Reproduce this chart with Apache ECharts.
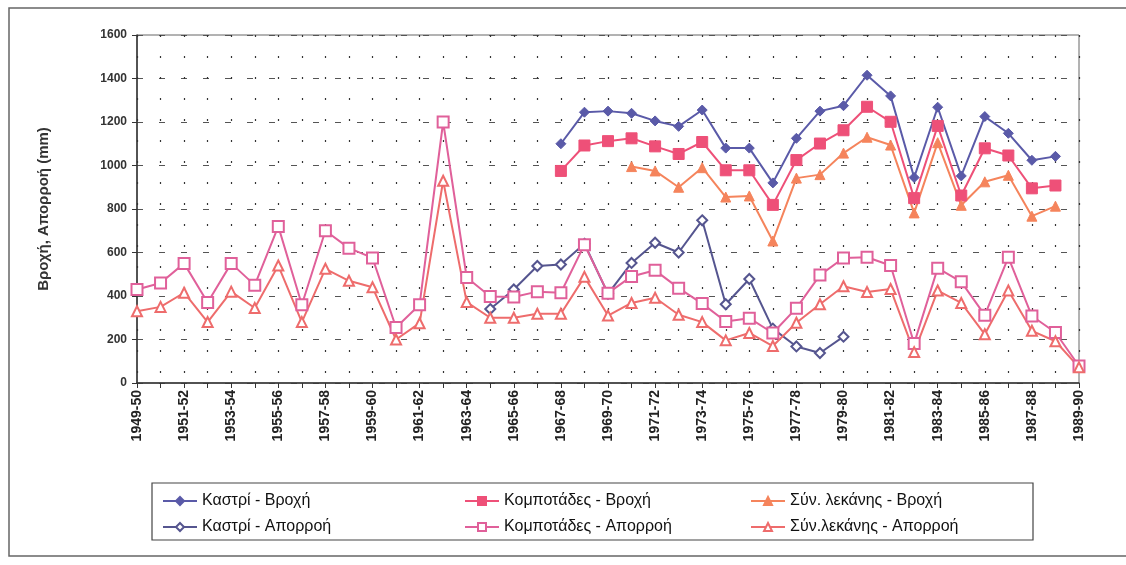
<!DOCTYPE html>
<html>
<head>
<meta charset="utf-8">
<script src="https://cdn.jsdelivr.net/npm/echarts@6/dist/echarts.min.js"></script>
<style>
html,body{margin:0;padding:0;background:#fff;}
#chart{width:1126px;height:565px;}
</style>
</head>
<body>
<div id="chart"></div>
<script>
const categories = ["1949-50","1950-51","1951-52","1952-53","1953-54","1954-55","1955-56","1956-57","1957-58","1958-59","1959-60","1960-61","1961-62","1962-63","1963-64","1964-65","1965-66","1966-67","1967-68","1968-69","1969-70","1970-71","1971-72","1972-73","1973-74","1974-75","1975-76","1976-77","1977-78","1978-79","1979-80","1980-81","1981-82","1982-83","1983-84","1984-85","1985-86","1986-87","1987-88","1988-89","1989-90"];

const seriesNames = ["Καστρί - Βροχή","Κομποτάδες - Βροχή","Σύν. λεκάνης - Βροχή","Καστρί - Απορροή","Κομποτάδες - Απορροή","Σύν.λεκάνης - Απορροή"];

const kastriRain = [null,null,null,null,null,null,null,null,null,null,null,null,null,null,null,null,null,null,1100,1245,1250,1240,1205,1180,1255,1080,1080,920,1125,1250,1275,1415,1320,945,1268,952,1225,1148,1024,1042,null];
const kompRain = [null,null,null,null,null,null,null,null,null,null,null,null,null,null,null,null,null,null,975,1092,1112,1125,1088,1053,1108,978,978,819,1025,1101,1162,1270,1201,850,1182,862,1079,1046,895,908,null];
const synRain = [null,null,null,null,null,null,null,null,null,null,null,null,null,null,null,null,null,null,null,null,null,995,975,900,990,855,860,653,942,958,1057,1130,1094,782,1105,817,925,955,767,813,null];
const kastriRunoff = [null,null,null,null,null,null,null,null,null,null,null,null,null,null,null,340,430,538,545,640,410,552,645,600,748,362,478,250,168,138,213,null,null,null,null,null,null,null,null,null,null];
const kompRunoff = [430,460,550,370,550,450,720,360,700,620,575,255,360,1200,485,398,395,420,415,636,413,490,518,436,365,283,298,230,344,496,575,578,540,182,528,465,312,578,308,232,78];
const synRunoff = [330,350,415,280,420,345,540,280,525,470,440,200,275,930,372,300,300,318,318,488,310,368,392,314,280,196,230,170,277,362,445,418,432,142,425,368,224,425,240,192,72];

const yTicks = {min:0, max:1600, step:200};

const chart = echarts.init(document.getElementById('chart'), null, {renderer:'canvas'});

const C = {
  kastriV:'#5a5aa8', kompV:'#ee5078', synV:'#f5845c',
  kastriA:'#55558f', kompA:'#e0609a', synA:'#ee6c6c'
};

function mk(name, data, color, symbol, size, lineColor){
  return {
    name: name, type:'line', data: data, symbol: symbol, symbolSize: size,
    showAllSymbol:true, connectNulls:false,
    lineStyle:{color: lineColor||color, width:2},
    itemStyle:{color: color, borderColor: color, borderWidth: symbol.startsWith('empty')?1.8:1},
    emphasis:{disabled:true}, z: 3
  };
}

const legendText = {fontFamily:'Liberation Sans, Arial, sans-serif', fontSize:16, color:'#111'};

const option = {
  animation:false,
  backgroundColor:'#fff',
  textStyle:{fontFamily:'Liberation Sans, Arial, sans-serif'},
  grid:{left:137, right:47, top:35, bottom:182, show:true, borderColor:'#666', borderWidth:1, backgroundColor:'#fff'},
  xAxis:{
    type:'category', data:categories, boundaryGap:false,
    axisLine:{lineStyle:{color:'#333', width:1.5}},
    axisTick:{show:true, interval:0, length:5, lineStyle:{color:'#333'}},
    axisLabel:{interval:1, rotate:90, fontSize:14, fontWeight:'bold', color:'#222', margin:7},
    splitLine:{show:true, interval:0, lineStyle:{color:'#333', type:[2,19], width:1.2}}
  },
  yAxis:{
    type:'value', min:yTicks.min, max:yTicks.max, interval:yTicks.step,
    name:'Βροχή, Απορροή (mm)', nameLocation:'middle', nameGap:86,
    nameTextStyle:{fontSize:15, fontWeight:'bold', color:'#333'},
    axisLine:{show:true, lineStyle:{color:'#333', width:1.5}},
    axisTick:{show:true, length:5, lineStyle:{color:'#333'}},
    axisLabel:{fontSize:12, fontWeight:'bold', color:'#333', margin:10, formatter:function(v){return String(v);}},
    splitLine:{show:true, lineStyle:{color:'#555', type:[6,16], width:1}}
  },
  legend:[
    {data:[seriesNames[0], seriesNames[3]], orient:'vertical', left:157, top:488, itemGap:10, itemWidth:34, itemHeight:10, textStyle:legendText},
    {data:[seriesNames[1], seriesNames[4]], orient:'vertical', left:459, top:488, itemGap:10, itemWidth:34, itemHeight:10, textStyle:legendText},
    {data:[seriesNames[2], seriesNames[5]], orient:'vertical', left:745, top:488, itemGap:10, itemWidth:34, itemHeight:10, textStyle:legendText}
  ],
  graphic:[
    {type:'rect', shape:{x:9, y:8, width:1130, height:548}, style:{fill:'none', stroke:'#666', lineWidth:1.5}, silent:true},
    {type:'rect', shape:{x:152, y:483, width:881, height:57}, style:{fill:'none', stroke:'#444', lineWidth:1.2}, silent:true}
  ],
  series:[
    mk(seriesNames[0], kastriRain, C.kastriV, 'diamond', 10),
    mk(seriesNames[1], kompRain, C.kompV, 'rect', 11),
    mk(seriesNames[2], synRain, C.synV, 'triangle', 10),
    mk(seriesNames[3], kastriRunoff, C.kastriA, 'emptyDiamond', 10),
    mk(seriesNames[4], kompRunoff, C.kompA, 'emptyRect', 11),
    mk(seriesNames[5], synRunoff, C.synA, 'emptyTriangle', 10)
  ]
};
chart.setOption(option);
</script>
</body>
</html>
